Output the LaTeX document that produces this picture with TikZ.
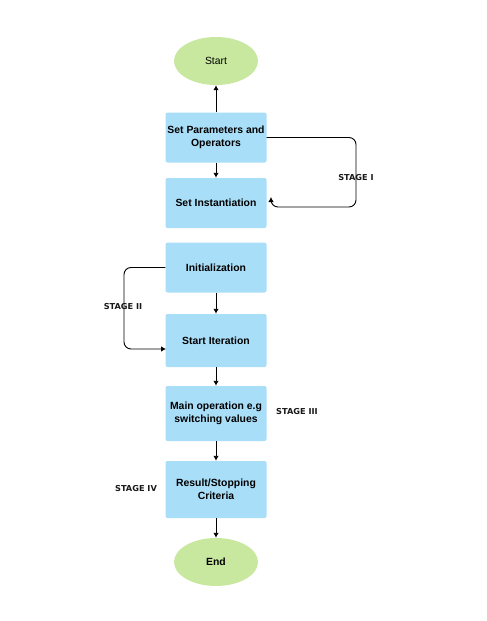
\documentclass[tikz,border=0pt]{standalone}
\usepackage{fontspec}
\setmainfont{Liberation Sans}
\newfontfamily\stagefont{DejaVu Sans}
\usetikzlibrary{shapes.geometric,arrows.meta}
\definecolor{boxblue}{HTML}{A9DEF8}
\definecolor{termgreen}{HTML}{C8E8A0}
\tikzset{
  stepbox/.style={rectangle,rounded corners=2pt,fill=boxblue,minimum width=101pt,minimum height=50pt,align=center,inner sep=1pt,font=\fontsize{10.4}{13}\selectfont\bfseries},
  term/.style={ellipse,fill=termgreen,minimum width=84pt,minimum height=48pt,inner sep=0pt,font=\fontsize{10.4}{13}\selectfont},
  arr/.style={draw=black,line width=0.9pt,-{Latex[length=5pt,width=5.5pt]}},
  stagelabel/.style={inner sep=1pt,text=black!90,font=\stagefont\fontsize{8.2}{10}\selectfont\bfseries}
}
\begin{document}
\begin{tikzpicture}[x=1pt,y=-1pt]
\useasboundingbox[fill=white] (0,0) rectangle (487,621);
\node[term] (start) at (216,61) {Start};
\node[stepbox] (params) at (216,137.5) {Set Parameters and\\Operators};
\node[stepbox] (inst) at (216,203) {Set Instantiation};
\node[stepbox] (init) at (216,267.5) {Initialization};
\node[stepbox,minimum height=53pt] (iter) at (216,340.5) {Start Iteration};
\node[stepbox,minimum height=55pt] (mainop) at (216,413.5) {Main operation e.g\\switching values};
\node[stepbox,minimum height=57pt] (result) at (216,489.5) {Result/Stopping\\Criteria};
\node[term,font=\fontsize{10.4}{13}\selectfont\bfseries] (end) at (216,562) {End};
\coordinate (loopend) at (271,197);
\coordinate (itertop) at (166,349);
\draw[arr] (params) -- (start);
\draw[arr] (params) -- (inst);
\draw[arr] (init) -- (iter);
\draw[arr] (iter) -- (mainop);
\draw[arr] (mainop) -- (result);
\draw[arr] (result) -- (end);
\draw[arr,rounded corners=7pt] (params.east) -| (356,207) -| (loopend);
\draw[arr,rounded corners=7pt] (init.west) -| (124,349) -- (itertop);
\node[stagelabel] (stage1) at (356,178) {STAGE I};
\node[stagelabel] (stage2) at (123,307) {STAGE II};
\node[stagelabel] (stage3) at (297,412) {STAGE III};
\node[stagelabel] (stage4) at (136,489) {STAGE IV};
\end{tikzpicture}
\end{document}
